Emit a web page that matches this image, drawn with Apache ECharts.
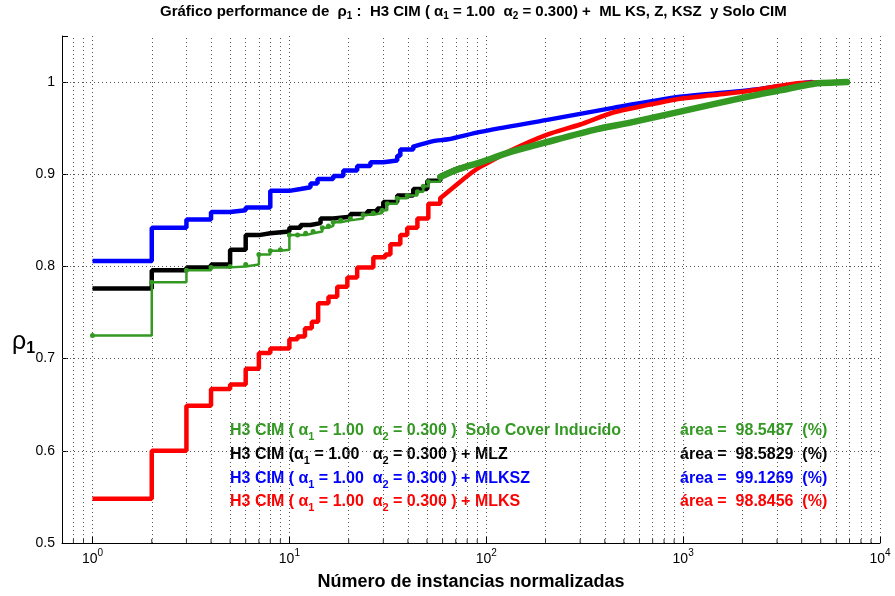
<!DOCTYPE html>
<html>
<head>
<meta charset="utf-8">
<script src="https://cdn.jsdelivr.net/npm/echarts@6/dist/echarts.min.js"></script>
<style>
  html, body { margin: 0; padding: 0; background: #fff; }
  #chart { width: 895px; height: 596px; }
</style>
</head>
<body>
<div id="chart"></div>
<script>
// curvas de performance (escalones al inicio, tramo continuo al final)
var redStepX   = [1, 2, 3, 4, 5, 6, 7, 8, 10, 11, 12, 13, 14, 15.8, 17.5, 19.7, 22.1, 26.7, 30.7, 32.6, 36.6, 39.7, 44.7, 50.8, 58.4];
var redStepY   = [0.548, 0.600, 0.649, 0.667, 0.672, 0.689, 0.706, 0.711, 0.721, 0.724, 0.733, 0.740, 0.760, 0.767, 0.778, 0.788, 0.799, 0.810, 0.813, 0.824, 0.834, 0.842, 0.852, 0.868, 0.874];
var redTailX   = [58.4, 73.8, 85.9, 93.3, 137, 204, 300, 441, 656, 966, 1420, 2113, 3105, 3927, 6640];
var redTailY   = [0.874, 0.892, 0.903, 0.908, 0.927, 0.943, 0.954, 0.967, 0.975, 0.982, 0.986, 0.990, 0.996, 0.999, 1.0];

var blueStepX  = [1, 2, 3, 4, 5, 6, 8, 10, 11.4, 12.8, 13.9, 16.7, 18.8, 22.1, 25.8, 30.0, 35.3, 36.6, 42.6];
var blueStepY  = [0.806, 0.842, 0.851, 0.859, 0.861, 0.864, 0.882, 0.884, 0.886, 0.890, 0.895, 0.898, 0.904, 0.909, 0.913, 0.915, 0.920, 0.927, 0.930];
var blueTailX  = [42.6, 53.8, 64.1, 93.3, 204, 441, 966, 2113, 3792, 4500];
var blueTailY  = [0.930, 0.936, 0.938, 0.946, 0.959, 0.972, 0.984, 0.991, 0.998, 1.0];

var blackStepX = [1, 2, 3, 4, 5, 6, 7, 8, 10, 11.4, 12.8, 14.4, 16.7, 20.4, 24.9, 28, 30, 35.3, 42.6, 50.2, 58.4];
var blackStepY = [0.776, 0.796, 0.799, 0.802, 0.818, 0.834, 0.836, 0.838, 0.842, 0.845, 0.847, 0.852, 0.854, 0.857, 0.860, 0.863, 0.870, 0.877, 0.884, 0.893, 0.898];
var blackTailX = [58.4, 71.2, 93.3, 137, 204, 366, 538, 966, 2113, 3105, 4571, 6640];
var blackTailY = [0.898, 0.906, 0.913, 0.925, 0.935, 0.949, 0.956, 0.968, 0.984, 0.991, 0.998, 1.0];

var greenStepX = [1, 2, 3, 4, 5, 6, 7, 8, 9, 10, 11, 12.1, 13.2, 14.7, 15.8, 16.7, 18.2, 20.4, 23.7, 26.7, 29.6, 31.4, 35.3, 39.7, 44.7, 47.9, 50.8, 58.4];
var greenStepY = [0.725, 0.783, 0.796, 0.799, 0.800, 0.802, 0.813, 0.817, 0.818, 0.834, 0.834, 0.836, 0.838, 0.842, 0.844, 0.848, 0.850, 0.852, 0.856, 0.858, 0.861, 0.868, 0.874, 0.877, 0.881, 0.887, 0.892, 0.897];
var greenTailX = [58.4, 71.2, 93.3, 137, 204, 366, 538, 966, 2113, 3105, 4571, 6796];
var greenTailY = [0.897, 0.905, 0.913, 0.925, 0.935, 0.949, 0.956, 0.968, 0.984, 0.991, 0.998, 1.0];

// rejilla: lineas menores en x (log) y mayores en y
var minorX = [0.8, 0.9, 2, 3, 4, 5, 6, 7, 8, 9, 20, 30, 40, 50, 60, 70, 80, 90,
              200, 300, 400, 500, 600, 700, 800, 900, 2000, 3000, 4000, 5000, 6000, 7000, 8000, 9000];
var gridY = [0.6, 0.7, 0.8, 0.9, 1.0];

var areas = ['98.5487', '98.5829', '99.1269', '98.8456'];

var FONT = 'Liberation Sans, Arial, sans-serif';
var GREEN = '#339922';

function pairs(xs, ys) {
    return xs.map(function (x, i) { return [x, ys[i]]; });
}

var myChart = echarts.init(document.getElementById('chart'));

var sub = function (size, c) {
    return { fontSize: size, fontWeight: 'bold', fontFamily: FONT, fill: c, padding: [size, 0, 0, 0] };
};
var txt = function (size, c) {
    return { fontSize: size, fontWeight: 'bold', fontFamily: FONT, fill: c };
};

function legendLine(top, color, left, right) {
    return [
        {
            type: 'text', left: 230, top: top, silent: true,
            style: {
                text: left, fill: color, font: 'bold 16px ' + FONT,
                rich: { t: txt(16, color), s: sub(11, color) }
            }
        },
        {
            type: 'text', left: 680, top: top, silent: true,
            style: { text: right, fill: color, font: 'bold 16px ' + FONT }
        }
    ];
}

var graphics = [
    {
        type: 'text', left: 160, top: 4, silent: true,
        style: {
            text: '{t|Gráfico performance de  ρ}{s|1}{t| :  H3 CIM ( α}{s|1}{t| = 1.00  α}{s|2}{t| = 0.300) +  ML KS, Z, KSZ  y Solo CIM}',
            rich: { t: txt(15, '#000'), s: sub(10, '#000') }
        }
    },
    {
        type: 'text', left: 12, top: 330, silent: true,
        style: {
            text: '{t|ρ}{s|1}',
            rich: {
                t: { fontSize: 25, fontFamily: FONT, fill: '#000' },
                s: { fontSize: 16, fontWeight: 'bold', fontFamily: FONT, fill: '#000', padding: [12, 0, 0, 0] }
            }
        }
    }
];
graphics = graphics
    .concat(legendLine(423, GREEN, '{t|H3 CIM ( α}{s|1}{t| = 1.00  α}{s|2}{t| = 0.300 )  Solo Cover Inducido}', 'área =  ' + areas[0] + '  (%)'))
    .concat(legendLine(447, '#000', '{t|H3 CIM (α}{s|1}{t| = 1.00   α}{s|2}{t| = 0.300 ) + MLZ}', 'área =  ' + areas[1] + '  (%)'))
    .concat(legendLine(471, '#0000ff', '{t|H3 CIM ( α}{s|1}{t| = 1.00  α}{s|2}{t| = 0.300 ) + MLKSZ}', 'área =  ' + areas[2] + '  (%)'))
    .concat(legendLine(494, '#ff0000', '{t|H3 CIM ( α}{s|1}{t| = 1.00  α}{s|2}{t| = 0.300 ) + MLKS}', 'área =  ' + areas[3] + '  (%)'));

function stepSeries(name, xs, ys, color, width) {
    return {
        name: name, type: 'line', step: 'end', showSymbol: false, symbol: 'none',
        data: pairs(xs, ys), lineStyle: { color: color, width: width }, itemStyle: { color: color },
        animation: false, silent: true, z: 5
    };
}
function tailSeries(name, xs, ys, color, width) {
    return {
        name: name, type: 'line', showSymbol: false, symbol: 'none',
        smooth: 0.25,
        data: pairs(xs, ys), lineStyle: { color: color, width: width, cap: 'round', join: 'round' },
        animation: false, silent: true, z: 5
    };
}

var gridLine = { color: '#555', width: 1, type: [1, 3] };

option = {
    backgroundColor: '#fff',
    animation: false,
    grid: { left: 62, right: 15, top: 36, bottom: 46 },
    graphic: graphics,
    xAxis: {
        type: 'log', logBase: 10, min: 0.7, max: 10000,
        axisLine: { show: true, lineStyle: { color: '#000', width: 1 } },
        axisTick: { show: true, inside: true, length: 6, lineStyle: { color: '#000' } },
        axisLabel: {
            color: '#000', margin: 5,
            formatter: function (v) {
                var e = Math.log10(v);
                if (Math.abs(e - Math.round(e)) > 1e-6) return '';
                return '{b|10}{e|' + Math.round(e) + '}';
            },
            rich: {
                b: { fontSize: 14, fontFamily: FONT, color: '#000', padding: [4, 0, 0, 0] },
                e: { fontSize: 10, fontFamily: FONT, color: '#000', padding: [0, 0, 8, 0] }
            }
        },
        splitLine: { show: true, lineStyle: gridLine },
        name: 'Número de instancias normalizadas', nameLocation: 'middle', nameGap: 30,
        nameTextStyle: { fontSize: 18, fontWeight: 'bold', fontFamily: FONT, color: '#000' }
    },
    yAxis: {
        type: 'value', min: 0.5, max: 1.05, interval: 0.1,
        axisLine: { show: true, onZero: false, lineStyle: { color: '#000', width: 1 } },
        axisTick: { show: true, inside: true, length: 6, lineStyle: { color: '#000' } },
        axisLabel: {
            color: '#000', fontSize: 14, fontFamily: FONT, margin: 7,
            formatter: function (v) { return v > 1.001 ? '' : String(Math.round(v * 10) / 10); }
        },
        splitLine: { show: false }
    },
    series: [
        {
            name: 'rejilla', type: 'line', data: [], silent: true, animation: false,
            markLine: {
                silent: true, symbol: ['none', 'none'], label: { show: false },
                lineStyle: gridLine, animation: false,
                data: minorX.map(function (v) { return { xAxis: v }; })
                    .concat(gridY.map(function (v) { return { yAxis: v }; }))
            }
        },
        {
            name: 'marcas', type: 'scatter', silent: true, clip: false, animation: false,
            symbol: 'rect', symbolSize: [1, 4], symbolOffset: [0, -2],
            itemStyle: { color: '#000' },
            data: minorX.map(function (v) { return [v, 0.5]; })
        },
        stepSeries('MLKSZ', blueStepX, blueStepY, '#0000ff', 4.5),
        tailSeries('MLKSZ', blueTailX, blueTailY, '#0000ff', 4.5),
        stepSeries('MLKS', redStepX, redStepY, '#ff0000', 4.5),
        tailSeries('MLKS', redTailX, redTailY, '#ff0000', 4.5),
        stepSeries('MLZ', blackStepX, blackStepY, '#000000', 4.5),
        tailSeries('MLZ', blackTailX, blackTailY, '#000000', 4.5),
        {
            name: 'Solo CIM', type: 'line', step: 'end', data: pairs(greenStepX, greenStepY),
            symbol: 'circle', symbolSize: 5, showSymbol: true,
            lineStyle: { color: GREEN, width: 2.5 }, itemStyle: { color: GREEN },
            animation: false, silent: true, z: 6
        },
        tailSeries('Solo CIM', greenTailX, greenTailY, GREEN, 6.5)
    ]
};

// 使用刚指定的配置项和数据显示图表。
myChart.setOption(option);
</script>
</body>
</html>
